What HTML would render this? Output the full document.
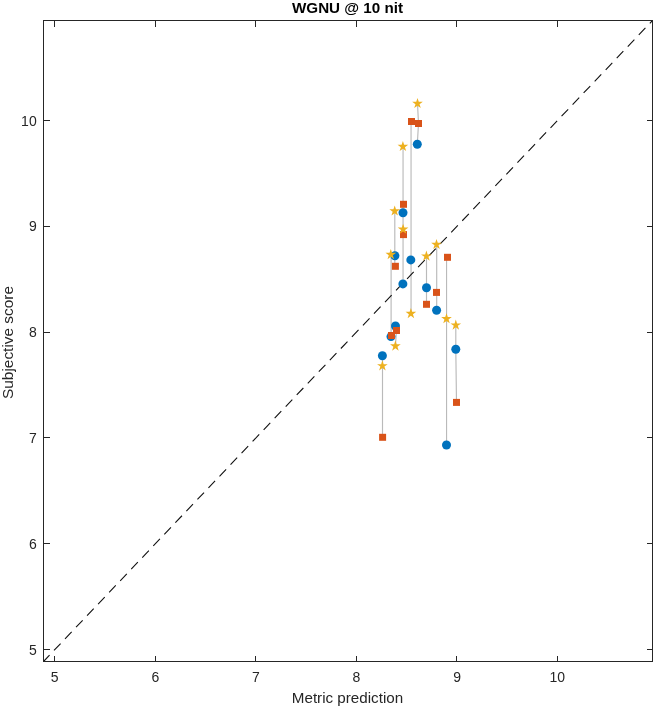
<!DOCTYPE html>
<html><head><meta charset="utf-8"><title>WGNU @ 10 nit</title>
<style>html,body{margin:0;padding:0;background:#fff;overflow:hidden}</style></head>
<body>
<svg width="656" height="708" viewBox="0 0 656 708" style="display:block">
<rect width="656" height="708" fill="#fff"/>
<g stroke="#BABABA" stroke-width="1.15" fill="none">
<polyline points="382.5,355.7 382.5,365.9 382.5,437.3"/>
<polyline points="391.1,254.6 391.1,335.5 391.1,336.6"/>
<polyline points="394.8,211.0 394.8,255.7 394.8,266.3"/>
<polyline points="395.5,326.0 396.5,330.5 395.4,346.1"/>
<polyline points="403.05,146.5 403.05,204.3 403.05,212.8"/>
<polyline points="403.05,229.3 403.05,234.6 403.05,283.9"/>
<polyline points="411.05,121.5 411.05,259.9 411.05,313.6"/>
<polyline points="417.5,103.5 418.5,123.5 417.3,144.3"/>
<polyline points="426.5,256.2 426.5,287.8 426.5,304.3"/>
<polyline points="436.7,244.5 436.7,292.4 436.7,310.3"/>
<polyline points="446.55,257.3 446.55,318.8 446.55,445.0"/>
<polyline points="455.8,325.2 455.8,349.3 456.5,402.4"/>
<polyline points="403.05,212.5 403.05,220 403.05,229.6"/>
</g>
<line x1="43.5" y1="661.5" x2="652.5" y2="20.5" stroke="#111" stroke-width="1.1" stroke-dasharray="9.6 6.42" stroke-dashoffset="0.8"/>
<circle cx="382.4" cy="355.7" r="4.5" fill="#0072BD"/>
<circle cx="391.0" cy="336.6" r="4.5" fill="#0072BD"/>
<circle cx="394.9" cy="255.7" r="4.5" fill="#0072BD"/>
<circle cx="395.5" cy="326.0" r="4.5" fill="#0072BD"/>
<circle cx="403.0" cy="212.8" r="4.5" fill="#0072BD"/>
<circle cx="402.9" cy="283.9" r="4.5" fill="#0072BD"/>
<circle cx="410.8" cy="259.9" r="4.5" fill="#0072BD"/>
<circle cx="417.3" cy="144.3" r="4.5" fill="#0072BD"/>
<circle cx="426.5" cy="287.8" r="4.5" fill="#0072BD"/>
<circle cx="436.6" cy="310.3" r="4.5" fill="#0072BD"/>
<circle cx="446.5" cy="445.0" r="4.5" fill="#0072BD"/>
<circle cx="455.8" cy="349.3" r="4.5" fill="#0072BD"/>
<rect x="379.1" y="433.8" width="7" height="7" fill="#D95319"/>
<rect x="388.0" y="332.0" width="7" height="7" fill="#D95319"/>
<rect x="391.9" y="262.8" width="7" height="7" fill="#D95319"/>
<rect x="393.0" y="327.0" width="7" height="7" fill="#D95319"/>
<rect x="400.0" y="200.8" width="7" height="7" fill="#D95319"/>
<rect x="400.0" y="231.1" width="7" height="7" fill="#D95319"/>
<rect x="408.0" y="118.0" width="7" height="7" fill="#D95319"/>
<rect x="415.0" y="120.0" width="7" height="7" fill="#D95319"/>
<rect x="423.0" y="300.8" width="7" height="7" fill="#D95319"/>
<rect x="433.0" y="288.9" width="7" height="7" fill="#D95319"/>
<rect x="444.0" y="253.8" width="7" height="7" fill="#D95319"/>
<rect x="453.0" y="398.9" width="7" height="7" fill="#D95319"/>
<polygon points="382.40,360.30 383.66,364.17 387.73,364.17 384.43,366.56 385.69,370.43 382.40,368.04 379.11,370.43 380.37,366.56 377.07,364.17 381.14,364.17" fill="#EDB120"/>
<polygon points="390.80,249.00 392.06,252.87 396.13,252.87 392.83,255.26 394.09,259.13 390.80,256.74 387.51,259.13 388.77,255.26 385.47,252.87 389.54,252.87" fill="#EDB120"/>
<polygon points="394.70,205.40 395.96,209.27 400.03,209.27 396.73,211.66 397.99,215.53 394.70,213.14 391.41,215.53 392.67,211.66 389.37,209.27 393.44,209.27" fill="#EDB120"/>
<polygon points="395.40,340.50 396.66,344.37 400.73,344.37 397.43,346.76 398.69,350.63 395.40,348.24 392.11,350.63 393.37,346.76 390.07,344.37 394.14,344.37" fill="#EDB120"/>
<polygon points="402.90,140.90 404.16,144.77 408.23,144.77 404.93,147.16 406.19,151.03 402.90,148.64 399.61,151.03 400.87,147.16 397.57,144.77 401.64,144.77" fill="#EDB120"/>
<polygon points="403.10,223.70 404.36,227.57 408.43,227.57 405.13,229.96 406.39,233.83 403.10,231.44 399.81,233.83 401.07,229.96 397.77,227.57 401.84,227.57" fill="#EDB120"/>
<polygon points="410.90,308.00 412.16,311.87 416.23,311.87 412.93,314.26 414.19,318.13 410.90,315.74 407.61,318.13 408.87,314.26 405.57,311.87 409.64,311.87" fill="#EDB120"/>
<polygon points="417.50,97.90 418.76,101.77 422.83,101.77 419.53,104.16 420.79,108.03 417.50,105.64 414.21,108.03 415.47,104.16 412.17,101.77 416.24,101.77" fill="#EDB120"/>
<polygon points="426.40,250.60 427.66,254.47 431.73,254.47 428.43,256.86 429.69,260.73 426.40,258.34 423.11,260.73 424.37,256.86 421.07,254.47 425.14,254.47" fill="#EDB120"/>
<polygon points="436.50,238.90 437.76,242.77 441.83,242.77 438.53,245.16 439.79,249.03 436.50,246.64 433.21,249.03 434.47,245.16 431.17,242.77 435.24,242.77" fill="#EDB120"/>
<polygon points="446.50,313.20 447.76,317.07 451.83,317.07 448.53,319.46 449.79,323.33 446.50,320.94 443.21,323.33 444.47,319.46 441.17,317.07 445.24,317.07" fill="#EDB120"/>
<polygon points="455.80,319.60 457.06,323.47 461.13,323.47 457.83,325.86 459.09,329.73 455.80,327.34 452.51,329.73 453.77,325.86 450.47,323.47 454.54,323.47" fill="#EDB120"/>
<g stroke="#262626" stroke-width="1" fill="none" shape-rendering="crispEdges">
<rect x="43.5" y="20.5" width="609.0" height="641.0"/>
<line x1="54.5" y1="661.5" x2="54.5" y2="655.5"/>
<line x1="54.5" y1="20.5" x2="54.5" y2="26.5"/>
<line x1="43.5" y1="649.5" x2="49.5" y2="649.5"/>
<line x1="652.5" y1="649.5" x2="646.5" y2="649.5"/>
<line x1="155.5" y1="661.5" x2="155.5" y2="655.5"/>
<line x1="155.5" y1="20.5" x2="155.5" y2="26.5"/>
<line x1="43.5" y1="543.5" x2="49.5" y2="543.5"/>
<line x1="652.5" y1="543.5" x2="646.5" y2="543.5"/>
<line x1="255.5" y1="661.5" x2="255.5" y2="655.5"/>
<line x1="255.5" y1="20.5" x2="255.5" y2="26.5"/>
<line x1="43.5" y1="437.5" x2="49.5" y2="437.5"/>
<line x1="652.5" y1="437.5" x2="646.5" y2="437.5"/>
<line x1="356.5" y1="661.5" x2="356.5" y2="655.5"/>
<line x1="356.5" y1="20.5" x2="356.5" y2="26.5"/>
<line x1="43.5" y1="332.5" x2="49.5" y2="332.5"/>
<line x1="652.5" y1="332.5" x2="646.5" y2="332.5"/>
<line x1="456.5" y1="661.5" x2="456.5" y2="655.5"/>
<line x1="456.5" y1="20.5" x2="456.5" y2="26.5"/>
<line x1="43.5" y1="226.5" x2="49.5" y2="226.5"/>
<line x1="652.5" y1="226.5" x2="646.5" y2="226.5"/>
<line x1="557.5" y1="661.5" x2="557.5" y2="655.5"/>
<line x1="557.5" y1="20.5" x2="557.5" y2="26.5"/>
<line x1="43.5" y1="120.5" x2="49.5" y2="120.5"/>
<line x1="652.5" y1="120.5" x2="646.5" y2="120.5"/>
</g>
<g font-family="'Liberation Sans', Arial, sans-serif" fill="#262626">
<text x="54.7" y="682" font-size="14" text-anchor="middle">5</text>
<text x="36.7" y="654.5" font-size="14" text-anchor="end">5</text>
<text x="155.3" y="682" font-size="14" text-anchor="middle">6</text>
<text x="36.7" y="548.7" font-size="14" text-anchor="end">6</text>
<text x="255.9" y="682" font-size="14" text-anchor="middle">7</text>
<text x="36.7" y="442.9" font-size="14" text-anchor="end">7</text>
<text x="356.5" y="682" font-size="14" text-anchor="middle">8</text>
<text x="36.7" y="337.1" font-size="14" text-anchor="end">8</text>
<text x="457.1" y="682" font-size="14" text-anchor="middle">9</text>
<text x="36.7" y="231.3" font-size="14" text-anchor="end">9</text>
<text x="557.2" y="682" font-size="14" text-anchor="middle">10</text>
<text x="36.7" y="125.5" font-size="14" text-anchor="end">10</text>
<text x="347.5" y="702.7" font-size="15.2" text-anchor="middle">Metric prediction</text>
<text transform="translate(12.5,342.5) rotate(-90)" font-size="15.4" text-anchor="middle">Subjective score</text>
<text x="347.5" y="12.5" font-size="15.2" font-weight="bold" text-anchor="middle" fill="#000">WGNU @ 10 nit</text>
</g>
</svg>
</body></html>
